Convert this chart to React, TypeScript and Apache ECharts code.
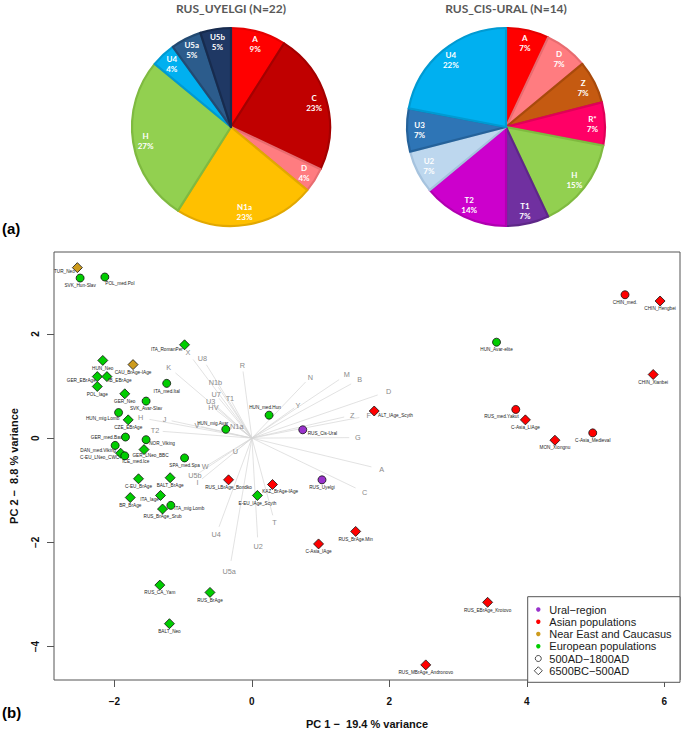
import React, { useEffect, useRef } from "react";
import * as echarts from "echarts";

// ---------- Pie data ----------
const pie1Title = "RUS_UYELGI (N=22)";
const pie1Labels = ["A", "C", "D", "N1a", "H", "U4", "U5a", "U5b"];
const pie1Values = [9, 23, 4, 23, 27, 4, 5, 5];

const pie2Title = "RUS_CIS-URAL (N=14)";
const pie2Labels = ["A", "D", "Z", "R*", "H", "T1", "T2", "U2", "U3", "U4"];
const pie2Values = [7, 7, 7, 7, 15, 7, 14, 7, 7, 22];

// ---------- PCA populations ----------
const popNames = [
  "TUR_Neo", "SVK_Hun-Slav", "POL_med.Pol", "ITA_RomanPer", "HUN_Neo", "CAU_BrAge-IAge",
  "GER_EBrAge", "IB_EBrAge", "POL_Iage", "ITA_med.Ital", "GER_Neo", "SVK_Avar-Slav",
  "HUN_mig.Lomb", "CZE_EBrAge", "HUN_mig.Avar", "GER_med.Bav", "NOR_Viking", "DAN_med.Viking",
  "C-EU_LNeo_CWC", "ICE_med.Ice", "GER_LNeo_BBC", "SPA_med.Spa", "RUS_LBrAge_Bondko", "E-EU_IAge_Scyth",
  "C-EU_BrAge", "BALT_BrAge", "BR_BrAge", "ITA_Iage", "ITA_mig.Lomb", "RUS_BrAge_Srub",
  "RUS_CA_Yam", "RUS_BrAge", "BALT_Neo", "HUN_med.Hun", "RUS_Cis-Ural", "ALT_IAge_Scyth",
  "RUS_Uyelgi", "KAZ_BrAge-IAge", "RUS_BrAge.Min", "C-Asia_IAge", "RUS_MBrAge_Andronovo", "RUS_EBrAge_Krotovo",
  "CHIN_med.", "CHIN_Hengbei", "HUN_Avar-elite", "CHIN_Xianbei", "RUS_med.Yakut", "C-Asia_LIAge",
  "MON_Xiongnu", "C-Asia_Medieval",
];
const popPC1 = [
  -2.54, -2.5, -2.14, -0.98, -2.17, -1.73,
  -2.25, -2.11, -2.25, -1.24, -1.85, -1.54,
  -1.94, -1.8, -0.38, -1.84, -1.54, -1.99,
  -1.91, -1.85, -1.57, -0.98, -0.34, 0.08,
  -1.65, -1.19, -1.77, -1.33, -1.18, -1.3,
  -1.34, -0.61, -1.2, 0.25, 0.74, 1.78,
  1.02, 0.3, 1.51, 0.97, 2.53, 3.43,
  5.43, 5.94, 3.56, 5.84, 3.84, 3.98,
  4.41, 4.96,
];
const popPC2 = [
  3.27, 3.07, 3.09, 1.79, 1.49, 1.41,
  1.18, 1.18, 0.99, 1.05, 0.85, 0.71,
  0.49, 0.35, 0.17, 0.02, -0.03, -0.14,
  -0.29, -0.34, -0.22, -0.38, -0.8, -1.1,
  -0.78, -0.76, -1.14, -1.1, -1.29, -1.36,
  -2.82, -2.96, -3.56, 0.44, 0.16, 0.52,
  -0.8, -0.89, -1.79, -2.03, -4.35, -3.15,
  2.75, 2.63, 1.84, 1.22, 0.55, 0.35,
  -0.04, 0.1,
];
// 0 Ural-region, 1 Asian, 2 Near East and Caucasus, 3 European
const popGroup = [
  2, 3, 3, 3, 3, 2,
  3, 3, 3, 3, 3, 3,
  3, 3, 3, 3, 3, 3,
  3, 3, 3, 3, 1, 3,
  3, 3, 3, 3, 3, 3,
  3, 3, 3, 3, 0, 1,
  0, 1, 1, 1, 1, 1,
  1, 1, 3, 1, 1, 1,
  1, 1,
];
// 0 = 500AD-1800AD (circle), 1 = 6500BC-500AD (diamond)
const popPeriod = [
  1, 0, 0, 1, 1, 1,
  1, 1, 1, 0, 1, 0,
  0, 1, 0, 0, 0, 0,
  1, 0, 1, 0, 1, 1,
  1, 1, 1, 1, 0, 1,
  1, 1, 1, 0, 0, 1,
  0, 1, 1, 1, 1, 1,
  0, 1, 0, 1, 0, 1,
  1, 0,
];

// ---------- haplogroup loadings ----------
const hgNames = [
  "X", "U8", "R", "N", "M", "B", "D", "N1b", "U7", "T1", "U3", "HV", "Y", "Z", "F", "G",
  "A", "C", "N1a", "V", "U", "W", "U5b", "I", "K", "H", "J", "T2", "T", "U4", "U2", "U5a",
];
const hgPC1 = [
  -0.93, -0.72, -0.14, 0.85, 1.38, 1.57, 1.99, -0.53, -0.52, -0.32, -0.6, -0.56, 0.67, 1.46, 1.7, 1.54,
  1.89, 1.64, -0.22, -0.8, -0.24, -0.68, -0.83, -0.79, -1.21, -1.62, -1.27, -1.41, 0.33, -0.52, 0.09, -0.33,
];
const hgPC2 = [
  1.64, 1.53, 1.39, 1.17, 1.22, 1.13, 0.9, 1.06, 0.83, 0.76, 0.71, 0.58, 0.63, 0.44, 0.43, 0.01,
  -0.6, -1.04, 0.22, 0.24, -0.26, -0.55, -0.72, -0.85, 1.36, 0.39, 0.36, 0.14, -1.61, -1.85, -2.07, -2.56,
];

const groupNames = ["Ural\u2212region", "Asian populations", "Near East and Caucasus", "European populations"];
const periodNames = ["500AD\u22121800AD", "6500BC\u2212500AD"];
const xTicks = [-2, 0, 2, 4, 6];
const yTicks = [-4, -2, 0, 2];
const xTitle = "PC 1 \u2212  19.4 % variance";
const yTitle = "PC 2 \u2212  8.8 % variance";

// ---------- styles ----------
const pie1Colors = ["#FF0000", "#C00000", "#FF7C80", "#FFC000", "#92D050", "#00B0F0", "#2C5C8C", "#1F3864"];
const pie1Borders = ["#E40000", "#A40000", "#E86C70", "#E2A800", "#7FBA40", "#009AD2", "#234A72", "#172B4E"];
const pie2Colors = ["#FF0000", "#FF7C80", "#C55A11", "#FF0066", "#92D050", "#7030A0", "#CC00CC", "#BDD7EE", "#2E75B6", "#00B0F0"];
const pie2Borders = ["#E40000", "#E86C70", "#A84A0C", "#E00058", "#7FBA40", "#5E2788", "#B000B0", "#A6C3DE", "#25629A", "#009AD2"];
const groupColors = ["#9932CC", "#FF0000", "#CD9B1D", "#00CD00"];

const labelOffsets: Record<string, [number, number]> = {
  TUR_Neo: [-13, 4],
  "POL_med.Pol": [15, 6.4],
  ITA_RomanPer: [-17.7, 4.3],
  GER_EBrAge: [-16, 4],
  IB_EBrAge: [13, 4.4],
  "HUN_mig.Lomb": [-16, 5.7],
  "HUN_mig.Avar": [-13, -5.3],
  "GER_med.Bav": [-19, 0],
  NOR_Viking: [16, 4],
  "DAN_med.Viking": [-17, 4.7],
  "C-EU_LNeo_CWC": [-21, 4.3],
  "ICE_med.Ice": [11, 6],
  GER_LNeo_BBC: [6.5, 6],
  ITA_Iage: [-11, 4.3],
  "ITA_mig.Lomb": [18.5, 3.3],
  "HUN_med.Hun": [-4, -7.7],
  "RUS_Cis-Ural": [19.6, 3.6],
  ALT_IAge_Scyth: [21.3, 4.3],
  "KAZ_BrAge-IAge": [7.7, 7.3],
  "RUS_med.Yakut": [-14.3, 6.7],
};

const PF = "Liberation Sans";
const PIEF = "Lato";

function pieSeries(labels: string[], values: number[], colors: string[], borders: string[], cx: number) {
  return [
    {
      type: "pie",
      center: [cx, 127],
      radius: [0, 99],
      startAngle: 90,
      clockwise: true,
      silent: true,
      label: { show: false },
      labelLine: { show: false },
      data: labels.map((n, i) => ({
        name: n,
        value: values[i],
        itemStyle: { color: colors[i], borderColor: borders[i], borderWidth: 2.2 },
      })),
    },
    {
      type: "pie",
      center: [cx, 127],
      radius: [68, 99],
      startAngle: 90,
      clockwise: true,
      silent: true,
      avoidLabelOverlap: false,
      labelLine: { show: false },
      itemStyle: { color: "rgba(0,0,0,0)", borderWidth: 0 },
      label: {
        show: true,
        position: "inside",
        formatter: (p: any) => `${p.name}\n${p.value}%`,
        color: "#ffffff",
        fontFamily: PIEF,
        fontWeight: "bold",
        fontSize: 8,
        lineHeight: 10,
        textBorderWidth: 0,
      },
      data: labels.map((n, i) => ({ name: n, value: values[i] })),
    },
  ];
}

export default function App() {
  const ref = useRef<HTMLDivElement>(null);
  useEffect(() => {
    if (!ref.current) return;
    const chart = echarts.init(ref.current, null, { renderer: "svg", width: 685, height: 734 });

    const popSeries = groupNames.map((g, gi) => ({
      type: "scatter",
      name: g,
      z: 5,
      data: popNames
        .map((n, i) => ({ n, i }))
        .filter((d) => popGroup[d.i] === gi)
        .map(({ n, i }) => ({
          name: n,
          value: [popPC1[i], popPC2[i]],
          symbol: popPeriod[i] === 1 ? "diamond" : "circle",
          symbolSize: popPeriod[i] === 1 ? 10 : 8,
          label: { offset: labelOffsets[n] || [0, 7.8] },
        })),
      itemStyle: { color: groupColors[gi], borderColor: "#111", borderWidth: 0.8, opacity: 1 },
      label: {
        show: true,
        position: ["50%", "50%"],
        align: "center",
        verticalAlign: "middle",
        formatter: "{b}",
        fontSize: 4.7,
        fontFamily: PF,
        color: "#222",
        textBorderWidth: 0,
      },
    }));

    const legendY0 = 609.5;
    const legendStep = 12.25;
    const legendX = 538.3;
    const legendEls: any[] = [
      {
        type: "rect",
        z: 100,
        shape: { x: 527.7, y: 596.7, width: 152.3, height: 85.6 },
        style: { fill: "#fff", stroke: "#555", lineWidth: 1 },
      },
    ];
    groupNames.forEach((g, i) => {
      const cy = legendY0 + i * legendStep;
      legendEls.push({ type: "circle", z: 101, shape: { cx: legendX, cy, r: 2.2 }, style: { fill: groupColors[i] } });
      legendEls.push({
        type: "text", z: 101,
        style: { text: g, x: 549.3, y: cy, fill: "#1a1a1a", font: `11px "${PF}"`, verticalAlign: "middle", align: "left" },
      });
    });
    periodNames.forEach((p, j) => {
      const cy = legendY0 + (4 + j) * legendStep;
      if (j === 0) {
        legendEls.push({ type: "circle", z: 101, shape: { cx: legendX, cy, r: 3 }, style: { fill: "none", stroke: "#222", lineWidth: 0.8 } });
      } else {
        legendEls.push({
          type: "polygon", z: 101,
          shape: { points: [[legendX, cy - 4], [legendX + 4, cy], [legendX, cy + 4], [legendX - 4, cy]] },
          style: { fill: "none", stroke: "#222", lineWidth: 0.8 },
        });
      }
      legendEls.push({
        type: "text", z: 101,
        style: { text: p, x: 549.3, y: cy, fill: "#1a1a1a", font: `11px "${PF}"`, verticalAlign: "middle", align: "left" },
      });
    });

    const option: any = {
      animation: false,
      backgroundColor: "#ffffff",
      title: [
        {
          text: pie1Title, left: 231, top: 2, padding: 0, textAlign: "center",
          textStyle: { fontFamily: PIEF, fontWeight: "bold", fontSize: 12, color: "#595959" },
        },
        {
          text: pie2Title, left: 506, top: 2, padding: 0, textAlign: "center",
          textStyle: { fontFamily: PIEF, fontWeight: "bold", fontSize: 12, color: "#595959" },
        },
      ],
      grid: {
        left: 50.7, right: 5, top: 252, bottom: 51.7,
        show: true, borderColor: "#555", borderWidth: 1, backgroundColor: "transparent",
      },
      xAxis: {
        type: "value",
        min: -2.88,
        max: 6.23,
        splitLine: { show: false },
        axisLine: { show: false, onZero: false },
        axisTick: { show: true, customValues: xTicks, length: 7, lineStyle: { color: "#555" } },
        axisLabel: {
          customValues: xTicks,
          formatter: (v: number) => String(v).replace("-", "\u2212"),
          fontFamily: PF, fontWeight: "bold", fontSize: 10, color: "#111", margin: 16,
        },
        name: xTitle,
        nameLocation: "middle",
        nameGap: 38,
        nameTextStyle: { fontFamily: PF, fontWeight: "bold", fontSize: 11, color: "#111" },
      },
      yAxis: {
        type: "value",
        min: -4.64,
        max: 3.57,
        splitLine: { show: false },
        axisLine: { show: false, onZero: false },
        axisTick: { show: true, customValues: yTicks, length: 7, lineStyle: { color: "#555" } },
        axisLabel: {
          customValues: yTicks,
          rotate: 90,
          formatter: (v: number) => String(v).replace("-", "\u2212"),
          fontFamily: PF, fontWeight: "bold", fontSize: 10, color: "#111", margin: 14,
        },
        name: yTitle,
        nameLocation: "middle",
        nameGap: 35,
        nameRotate: 90,
        nameTextStyle: { fontFamily: PF, fontWeight: "bold", fontSize: 11, color: "#111" },
      },
      graphic: [
        {
          type: "text", left: 2, top: 221,
          style: { text: "(a)", font: `bold 15px "${PF}"`, fill: "#000" },
        },
        {
          type: "text", left: 2, top: 705,
          style: { text: "(b)", font: `bold 15px "${PF}"`, fill: "#000" },
        },
        ...legendEls,
      ],
      series: [
        ...pieSeries(pie1Labels, pie1Values, pie1Colors, pie1Borders, 231),
        ...pieSeries(pie2Labels, pie2Values, pie2Colors, pie2Borders, 506),
        {
          type: "lines",
          coordinateSystem: "cartesian2d",
          silent: true,
          z: 1,
          lineStyle: { color: "#d6d6d6", width: 0.7, opacity: 1 },
          data: hgNames.map((n, i) => ({ coords: [[0, 0], [hgPC1[i] * 0.92, hgPC2[i] * 0.92]] })),
        },
        {
          type: "scatter",
          silent: true,
          z: 2,
          symbolSize: 0.1,
          itemStyle: { color: "#8a8a8a", opacity: 0 },
          label: {
            show: true,
            position: ["50%", "50%"],
            align: "center",
            verticalAlign: "middle",
            formatter: "{b}",
            fontFamily: PF,
            fontSize: 7.3,
            color: "#8a8a8a",
            opacity: 1,
            textBorderWidth: 0,
          },
          data: hgNames.map((n, i) => ({ name: n, value: [hgPC1[i], hgPC2[i]] })),
        },
        ...popSeries,
      ],
    };
    chart.setOption(option);
    return () => chart.dispose();
  }, []);
  return <div ref={ref} style={{ position: "absolute", left: 0, top: 0, width: 685, height: 734 }} />;
}
